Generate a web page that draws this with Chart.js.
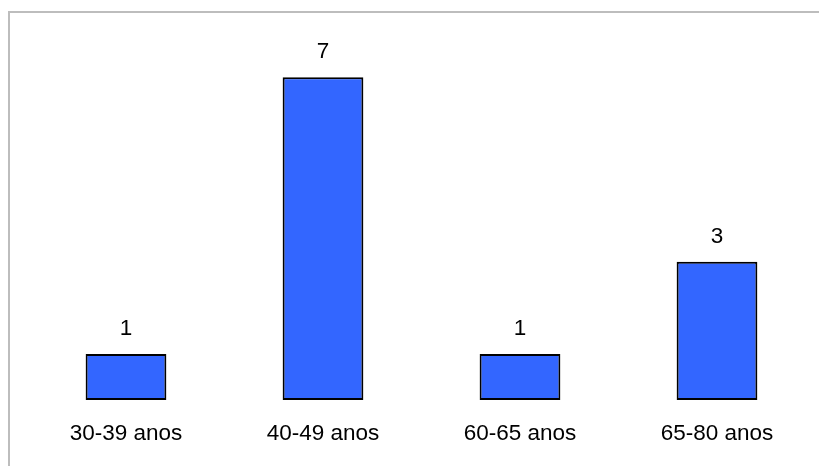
<!DOCTYPE html>
<html>
<head>
<meta charset="utf-8">
<script src="https://cdn.jsdelivr.net/npm/chart.js@4"></script>
<style>
html,body{margin:0;padding:0;background:#fff;width:819px;height:466px;overflow:hidden;}
#frame{position:absolute;left:8px;top:11px;right:0;bottom:0;border-top:2px solid #bdbdbd;border-left:2px solid #bdbdbd;}
#wrap{position:absolute;left:0;top:0;width:819px;height:466px;}
</style>
</head>
<body>
<div id="frame"></div>
<div id="wrap"><canvas id="c" width="819" height="466"></canvas></div>
<script>
const categories = ["30-39 anos", "40-49 anos", "60-65 anos", "65-80 anos"];
const values = [1, 7, 1, 3];
const yMax = 8;

const labelPlugin = {
  id: 'labels',
  afterDatasetsDraw(chart) {
    const ctx = chart.ctx;
    const xs = chart.scales.x, ys = chart.scales.y;
    ctx.save();
    ctx.fillStyle = '#000';
    ctx.textAlign = 'center';
    ctx.textBaseline = 'middle';
    ctx.font = '22.5px "Liberation Sans", Arial, sans-serif';
    values.forEach((v, i) => {
      const x = xs.getPixelForValue(i);
      const y = ys.getPixelForValue(v);
      ctx.fillText(String(v), x, y - 25);
    });
    categories.forEach((c, i) => {
      const x = xs.getPixelForValue(i);
      ctx.fillText(c, x, ys.getPixelForValue(0) + 34);
    });
    ctx.restore();
  }
};

new Chart(document.getElementById('c'), {
  type: 'bar',
  data: {
    labels: categories,
    datasets: [{
      data: values,
      backgroundColor: '#3366ff',
      borderColor: '#000000',
      borderWidth: 2,
      borderSkipped: false,
      barPercentage: 0.41,
      categoryPercentage: 1.0
    }]
  },
  options: {
    responsive: false,
    animation: false,
    events: [],
    layout: { padding: { left: 27.5, right: 3.5, top: 31, bottom: 66 } },
    plugins: { legend: { display: false }, tooltip: { enabled: false } },
    scales: {
      x: { display: false },
      y: { display: false, min: 0, max: yMax }
    }
  },
  plugins: [labelPlugin]
});
</script>
</body>
</html>
